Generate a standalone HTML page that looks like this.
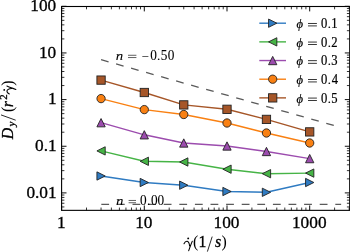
<!DOCTYPE html><html><head><meta charset="utf-8"><style>html,body{margin:0;padding:0;background:#fff;overflow:hidden;}svg{display:block;will-change:transform;}text{font-family:"Liberation Serif",serif;stroke:#000;stroke-width:0.3px;}.sm text{stroke-width:0.08px;}.lg text{stroke-width:0.2px;}</style></head><body>
<svg width="350" height="252" viewBox="0 0 350 252">
<defs><clipPath id="ax"><rect x="61.60" y="6.50" width="288.10" height="203.85"/></clipPath></defs>
<g clip-path="url(#ax)" fill="none" stroke="#5a5a5a" stroke-width="1.3" stroke-dasharray="7.8 7.8">
<line x1="101.06" y1="59.74" x2="341.14" y2="127.45"/>
<line x1="101.31" y1="204.30" x2="341.14" y2="204.30"/>
</g>
<g class="sm">
<text transform="translate(115.87,59.80) scale(1.120,1.000)" font-size="13.30" font-style="italic">n</text>
<g fill="#000"><rect x="128.00" y="54.86" width="8.40" height="0.62"/><rect x="128.00" y="57.41" width="8.40" height="0.62"/></g>
<rect x="142.30" y="56.14" width="6.10" height="0.62" fill="#000"/>
<text transform="translate(150.19,59.80) scale(1.000,1.100)" font-size="13.30">0</text>
<text x="157.12" y="59.80" font-size="13.30">.</text>
<text transform="translate(160.83,59.80) scale(1.000,1.100)" font-size="13.30">5</text>
<text transform="translate(167.79,59.80) scale(1.000,1.100)" font-size="13.30">0</text>
<text transform="translate(115.97,204.90) scale(1.120,1.000)" font-size="13.30" font-style="italic">n</text>
<g fill="#000"><rect x="128.60" y="199.97" width="7.40" height="0.62"/><rect x="128.60" y="202.52" width="7.40" height="0.62"/></g>
<text transform="translate(140.09,204.90) scale(1.000,1.100)" font-size="13.30">0</text>
<text x="146.92" y="204.90" font-size="13.30">.</text>
<text transform="translate(150.89,204.90) scale(1.000,1.100)" font-size="13.30">0</text>
<text transform="translate(157.59,204.90) scale(1.000,1.100)" font-size="13.30">0</text>
</g>
<g clip-path="url(#ax)">
<polyline points="101.06,176.00 144.30,182.50 183.76,185.20 227.00,191.50 266.46,192.30 309.70,182.50" fill="none" stroke="#2f7bc2" stroke-width="1.4" stroke-linejoin="round"/>
<polyline points="101.06,150.90 144.30,161.30 183.76,162.00 227.00,169.20 266.46,173.70 309.70,173.10" fill="none" stroke="#46b446" stroke-width="1.4" stroke-linejoin="round"/>
<polyline points="101.06,122.70 144.30,134.80 183.76,143.00 227.00,146.00 266.46,151.50 309.70,158.60" fill="none" stroke="#9c4cae" stroke-width="1.4" stroke-linejoin="round"/>
<polyline points="101.06,98.60 144.30,109.60 183.76,114.50 227.00,123.00 266.46,133.00 309.70,143.00" fill="none" stroke="#f98012" stroke-width="1.4" stroke-linejoin="round"/>
<polyline points="101.06,80.10 144.30,92.50 183.76,104.90 227.00,109.30 266.46,119.40 309.70,131.90" fill="none" stroke="#a65628" stroke-width="1.4" stroke-linejoin="round"/>
<polygon points="105.21,176.00 96.91,171.85 96.91,180.15" fill="#2f7bc2" stroke="#222" stroke-width="0.90" stroke-linejoin="miter"/>
<polygon points="148.45,182.50 140.15,178.35 140.15,186.65" fill="#2f7bc2" stroke="#222" stroke-width="0.90" stroke-linejoin="miter"/>
<polygon points="187.91,185.20 179.61,181.05 179.61,189.35" fill="#2f7bc2" stroke="#222" stroke-width="0.90" stroke-linejoin="miter"/>
<polygon points="231.15,191.50 222.85,187.35 222.85,195.65" fill="#2f7bc2" stroke="#222" stroke-width="0.90" stroke-linejoin="miter"/>
<polygon points="270.61,192.30 262.31,188.15 262.31,196.45" fill="#2f7bc2" stroke="#222" stroke-width="0.90" stroke-linejoin="miter"/>
<polygon points="313.85,182.50 305.55,178.35 305.55,186.65" fill="#2f7bc2" stroke="#222" stroke-width="0.90" stroke-linejoin="miter"/>
<polygon points="96.91,150.90 105.21,146.75 105.21,155.05" fill="#46b446" stroke="#222" stroke-width="0.90" stroke-linejoin="miter"/>
<polygon points="140.15,161.30 148.45,157.15 148.45,165.45" fill="#46b446" stroke="#222" stroke-width="0.90" stroke-linejoin="miter"/>
<polygon points="179.61,162.00 187.91,157.85 187.91,166.15" fill="#46b446" stroke="#222" stroke-width="0.90" stroke-linejoin="miter"/>
<polygon points="222.85,169.20 231.15,165.05 231.15,173.35" fill="#46b446" stroke="#222" stroke-width="0.90" stroke-linejoin="miter"/>
<polygon points="262.31,173.70 270.61,169.55 270.61,177.85" fill="#46b446" stroke="#222" stroke-width="0.90" stroke-linejoin="miter"/>
<polygon points="305.55,173.10 313.85,168.95 313.85,177.25" fill="#46b446" stroke="#222" stroke-width="0.90" stroke-linejoin="miter"/>
<polygon points="101.06,118.55 96.91,126.85 105.21,126.85" fill="#9c4cae" stroke="#222" stroke-width="0.90" stroke-linejoin="miter"/>
<polygon points="144.30,130.65 140.15,138.95 148.45,138.95" fill="#9c4cae" stroke="#222" stroke-width="0.90" stroke-linejoin="miter"/>
<polygon points="183.76,138.85 179.61,147.15 187.91,147.15" fill="#9c4cae" stroke="#222" stroke-width="0.90" stroke-linejoin="miter"/>
<polygon points="227.00,141.85 222.85,150.15 231.15,150.15" fill="#9c4cae" stroke="#222" stroke-width="0.90" stroke-linejoin="miter"/>
<polygon points="266.46,147.35 262.31,155.65 270.61,155.65" fill="#9c4cae" stroke="#222" stroke-width="0.90" stroke-linejoin="miter"/>
<polygon points="309.70,154.45 305.55,162.75 313.85,162.75" fill="#9c4cae" stroke="#222" stroke-width="0.90" stroke-linejoin="miter"/>
<circle cx="101.06" cy="98.60" r="4.15" fill="#f98012" stroke="#222" stroke-width="0.90"/>
<circle cx="144.30" cy="109.60" r="4.15" fill="#f98012" stroke="#222" stroke-width="0.90"/>
<circle cx="183.76" cy="114.50" r="4.15" fill="#f98012" stroke="#222" stroke-width="0.90"/>
<circle cx="227.00" cy="123.00" r="4.15" fill="#f98012" stroke="#222" stroke-width="0.90"/>
<circle cx="266.46" cy="133.00" r="4.15" fill="#f98012" stroke="#222" stroke-width="0.90"/>
<circle cx="309.70" cy="143.00" r="4.15" fill="#f98012" stroke="#222" stroke-width="0.90"/>
<rect x="96.91" y="75.95" width="8.30" height="8.30" fill="#a65628" stroke="#222" stroke-width="0.90"/>
<rect x="140.15" y="88.35" width="8.30" height="8.30" fill="#a65628" stroke="#222" stroke-width="0.90"/>
<rect x="179.61" y="100.75" width="8.30" height="8.30" fill="#a65628" stroke="#222" stroke-width="0.90"/>
<rect x="222.85" y="105.15" width="8.30" height="8.30" fill="#a65628" stroke="#222" stroke-width="0.90"/>
<rect x="262.31" y="115.25" width="8.30" height="8.30" fill="#a65628" stroke="#222" stroke-width="0.90"/>
<rect x="305.55" y="127.75" width="8.30" height="8.30" fill="#a65628" stroke="#222" stroke-width="0.90"/>
</g>
<g class="lg">
<line x1="259.3" y1="23.20" x2="286" y2="23.20" stroke="#2f7bc2" stroke-width="1.4"/>
<polygon points="276.85,23.20 268.55,19.05 268.55,27.35" fill="#2f7bc2" stroke="#222" stroke-width="0.90" stroke-linejoin="miter"/>
<text x="296.41" y="27.90" font-size="12.60" font-style="italic">&#x3d5;</text>
<g fill="#000"><rect x="308.00" y="22.98" width="8.90" height="0.78"/><rect x="308.00" y="25.53" width="8.90" height="0.78"/></g>
<text transform="translate(320.92,27.90) scale(1.000,1.100)" font-size="12.60">0</text>
<text x="327.77" y="27.90" font-size="12.60">.</text>
<text transform="translate(331.29,27.90) scale(1.000,1.100)" font-size="12.60">1</text>
<line x1="259.3" y1="41.87" x2="286" y2="41.87" stroke="#46b446" stroke-width="1.4"/>
<polygon points="268.55,41.87 276.85,37.72 276.85,46.02" fill="#46b446" stroke="#222" stroke-width="0.90" stroke-linejoin="miter"/>
<text x="296.41" y="46.57" font-size="12.60" font-style="italic">&#x3d5;</text>
<g fill="#000"><rect x="308.00" y="41.66" width="8.90" height="0.78"/><rect x="308.00" y="44.21" width="8.90" height="0.78"/></g>
<text transform="translate(320.92,46.57) scale(1.000,1.100)" font-size="12.60">0</text>
<text x="327.77" y="46.57" font-size="12.60">.</text>
<text transform="translate(331.35,46.57) scale(1.000,1.100)" font-size="12.60">2</text>
<line x1="259.3" y1="60.54" x2="286" y2="60.54" stroke="#9c4cae" stroke-width="1.4"/>
<polygon points="272.70,56.39 268.55,64.69 276.85,64.69" fill="#9c4cae" stroke="#222" stroke-width="0.90" stroke-linejoin="miter"/>
<text x="296.41" y="65.24" font-size="12.60" font-style="italic">&#x3d5;</text>
<g fill="#000"><rect x="308.00" y="60.33" width="8.90" height="0.78"/><rect x="308.00" y="62.88" width="8.90" height="0.78"/></g>
<text transform="translate(320.92,65.24) scale(1.000,1.100)" font-size="12.60">0</text>
<text x="327.77" y="65.24" font-size="12.60">.</text>
<text transform="translate(331.30,65.24) scale(1.000,1.100)" font-size="12.60">3</text>
<line x1="259.3" y1="79.21" x2="286" y2="79.21" stroke="#f98012" stroke-width="1.4"/>
<circle cx="272.70" cy="79.21" r="4.15" fill="#f98012" stroke="#222" stroke-width="0.90"/>
<text x="296.41" y="83.91" font-size="12.60" font-style="italic">&#x3d5;</text>
<g fill="#000"><rect x="308.00" y="79.00" width="8.90" height="0.78"/><rect x="308.00" y="81.55" width="8.90" height="0.78"/></g>
<text transform="translate(320.92,83.91) scale(1.000,1.100)" font-size="12.60">0</text>
<text x="327.77" y="83.91" font-size="12.60">.</text>
<text transform="translate(331.65,83.91) scale(1.000,1.100)" font-size="12.60">4</text>
<line x1="259.3" y1="97.88" x2="286" y2="97.88" stroke="#a65628" stroke-width="1.4"/>
<rect x="268.55" y="93.73" width="8.30" height="8.30" fill="#a65628" stroke="#222" stroke-width="0.90"/>
<text x="296.41" y="102.58" font-size="12.60" font-style="italic">&#x3d5;</text>
<g fill="#000"><rect x="308.00" y="97.67" width="8.90" height="0.78"/><rect x="308.00" y="100.22" width="8.90" height="0.78"/></g>
<text transform="translate(320.92,102.58) scale(1.000,1.100)" font-size="12.60">0</text>
<text x="327.77" y="102.58" font-size="12.60">.</text>
<text transform="translate(331.17,102.58) scale(1.000,1.100)" font-size="12.60">5</text>
</g>
<g stroke="#000"><line x1="61.60" y1="210.35" x2="61.60" y2="205.45" stroke-width="0.95"/><line x1="61.60" y1="6.50" x2="61.60" y2="11.40" stroke-width="0.95"/><line x1="86.50" y1="210.35" x2="86.50" y2="207.55" stroke-width="0.80"/><line x1="86.50" y1="6.50" x2="86.50" y2="9.30" stroke-width="0.80"/><line x1="101.06" y1="210.35" x2="101.06" y2="207.55" stroke-width="0.80"/><line x1="101.06" y1="6.50" x2="101.06" y2="9.30" stroke-width="0.80"/><line x1="111.39" y1="210.35" x2="111.39" y2="207.55" stroke-width="0.80"/><line x1="111.39" y1="6.50" x2="111.39" y2="9.30" stroke-width="0.80"/><line x1="119.40" y1="210.35" x2="119.40" y2="207.55" stroke-width="0.80"/><line x1="119.40" y1="6.50" x2="119.40" y2="9.30" stroke-width="0.80"/><line x1="125.95" y1="210.35" x2="125.95" y2="207.55" stroke-width="0.80"/><line x1="125.95" y1="6.50" x2="125.95" y2="9.30" stroke-width="0.80"/><line x1="131.49" y1="210.35" x2="131.49" y2="207.55" stroke-width="0.80"/><line x1="131.49" y1="6.50" x2="131.49" y2="9.30" stroke-width="0.80"/><line x1="136.29" y1="210.35" x2="136.29" y2="207.55" stroke-width="0.80"/><line x1="136.29" y1="6.50" x2="136.29" y2="9.30" stroke-width="0.80"/><line x1="140.52" y1="210.35" x2="140.52" y2="207.55" stroke-width="0.80"/><line x1="140.52" y1="6.50" x2="140.52" y2="9.30" stroke-width="0.80"/><line x1="144.30" y1="210.35" x2="144.30" y2="205.45" stroke-width="0.95"/><line x1="144.30" y1="6.50" x2="144.30" y2="11.40" stroke-width="0.95"/><line x1="169.20" y1="210.35" x2="169.20" y2="207.55" stroke-width="0.80"/><line x1="169.20" y1="6.50" x2="169.20" y2="9.30" stroke-width="0.80"/><line x1="183.76" y1="210.35" x2="183.76" y2="207.55" stroke-width="0.80"/><line x1="183.76" y1="6.50" x2="183.76" y2="9.30" stroke-width="0.80"/><line x1="194.09" y1="210.35" x2="194.09" y2="207.55" stroke-width="0.80"/><line x1="194.09" y1="6.50" x2="194.09" y2="9.30" stroke-width="0.80"/><line x1="202.10" y1="210.35" x2="202.10" y2="207.55" stroke-width="0.80"/><line x1="202.10" y1="6.50" x2="202.10" y2="9.30" stroke-width="0.80"/><line x1="208.65" y1="210.35" x2="208.65" y2="207.55" stroke-width="0.80"/><line x1="208.65" y1="6.50" x2="208.65" y2="9.30" stroke-width="0.80"/><line x1="214.19" y1="210.35" x2="214.19" y2="207.55" stroke-width="0.80"/><line x1="214.19" y1="6.50" x2="214.19" y2="9.30" stroke-width="0.80"/><line x1="218.99" y1="210.35" x2="218.99" y2="207.55" stroke-width="0.80"/><line x1="218.99" y1="6.50" x2="218.99" y2="9.30" stroke-width="0.80"/><line x1="223.22" y1="210.35" x2="223.22" y2="207.55" stroke-width="0.80"/><line x1="223.22" y1="6.50" x2="223.22" y2="9.30" stroke-width="0.80"/><line x1="227.00" y1="210.35" x2="227.00" y2="205.45" stroke-width="0.95"/><line x1="227.00" y1="6.50" x2="227.00" y2="11.40" stroke-width="0.95"/><line x1="251.90" y1="210.35" x2="251.90" y2="207.55" stroke-width="0.80"/><line x1="251.90" y1="6.50" x2="251.90" y2="9.30" stroke-width="0.80"/><line x1="266.46" y1="210.35" x2="266.46" y2="207.55" stroke-width="0.80"/><line x1="266.46" y1="6.50" x2="266.46" y2="9.30" stroke-width="0.80"/><line x1="276.79" y1="210.35" x2="276.79" y2="207.55" stroke-width="0.80"/><line x1="276.79" y1="6.50" x2="276.79" y2="9.30" stroke-width="0.80"/><line x1="284.80" y1="210.35" x2="284.80" y2="207.55" stroke-width="0.80"/><line x1="284.80" y1="6.50" x2="284.80" y2="9.30" stroke-width="0.80"/><line x1="291.35" y1="210.35" x2="291.35" y2="207.55" stroke-width="0.80"/><line x1="291.35" y1="6.50" x2="291.35" y2="9.30" stroke-width="0.80"/><line x1="296.89" y1="210.35" x2="296.89" y2="207.55" stroke-width="0.80"/><line x1="296.89" y1="6.50" x2="296.89" y2="9.30" stroke-width="0.80"/><line x1="301.69" y1="210.35" x2="301.69" y2="207.55" stroke-width="0.80"/><line x1="301.69" y1="6.50" x2="301.69" y2="9.30" stroke-width="0.80"/><line x1="305.92" y1="210.35" x2="305.92" y2="207.55" stroke-width="0.80"/><line x1="305.92" y1="6.50" x2="305.92" y2="9.30" stroke-width="0.80"/><line x1="309.70" y1="210.35" x2="309.70" y2="205.45" stroke-width="0.95"/><line x1="309.70" y1="6.50" x2="309.70" y2="11.40" stroke-width="0.95"/><line x1="334.60" y1="210.35" x2="334.60" y2="207.55" stroke-width="0.80"/><line x1="334.60" y1="6.50" x2="334.60" y2="9.30" stroke-width="0.80"/><line x1="349.16" y1="210.35" x2="349.16" y2="207.55" stroke-width="0.80"/><line x1="349.16" y1="6.50" x2="349.16" y2="9.30" stroke-width="0.80"/><line x1="61.60" y1="206.94" x2="64.40" y2="206.94" stroke-width="0.80"/><line x1="349.70" y1="206.94" x2="346.90" y2="206.94" stroke-width="0.80"/><line x1="61.60" y1="203.25" x2="64.40" y2="203.25" stroke-width="0.80"/><line x1="349.70" y1="203.25" x2="346.90" y2="203.25" stroke-width="0.80"/><line x1="61.60" y1="200.13" x2="64.40" y2="200.13" stroke-width="0.80"/><line x1="349.70" y1="200.13" x2="346.90" y2="200.13" stroke-width="0.80"/><line x1="61.60" y1="197.42" x2="64.40" y2="197.42" stroke-width="0.80"/><line x1="349.70" y1="197.42" x2="346.90" y2="197.42" stroke-width="0.80"/><line x1="61.60" y1="195.03" x2="64.40" y2="195.03" stroke-width="0.80"/><line x1="349.70" y1="195.03" x2="346.90" y2="195.03" stroke-width="0.80"/><line x1="61.60" y1="192.90" x2="66.50" y2="192.90" stroke-width="0.95"/><line x1="349.70" y1="192.90" x2="344.80" y2="192.90" stroke-width="0.95"/><line x1="61.60" y1="178.86" x2="64.40" y2="178.86" stroke-width="0.80"/><line x1="349.70" y1="178.86" x2="346.90" y2="178.86" stroke-width="0.80"/><line x1="61.60" y1="170.64" x2="64.40" y2="170.64" stroke-width="0.80"/><line x1="349.70" y1="170.64" x2="346.90" y2="170.64" stroke-width="0.80"/><line x1="61.60" y1="164.81" x2="64.40" y2="164.81" stroke-width="0.80"/><line x1="349.70" y1="164.81" x2="346.90" y2="164.81" stroke-width="0.80"/><line x1="61.60" y1="160.29" x2="64.40" y2="160.29" stroke-width="0.80"/><line x1="349.70" y1="160.29" x2="346.90" y2="160.29" stroke-width="0.80"/><line x1="61.60" y1="156.60" x2="64.40" y2="156.60" stroke-width="0.80"/><line x1="349.70" y1="156.60" x2="346.90" y2="156.60" stroke-width="0.80"/><line x1="61.60" y1="153.48" x2="64.40" y2="153.48" stroke-width="0.80"/><line x1="349.70" y1="153.48" x2="346.90" y2="153.48" stroke-width="0.80"/><line x1="61.60" y1="150.77" x2="64.40" y2="150.77" stroke-width="0.80"/><line x1="349.70" y1="150.77" x2="346.90" y2="150.77" stroke-width="0.80"/><line x1="61.60" y1="148.38" x2="64.40" y2="148.38" stroke-width="0.80"/><line x1="349.70" y1="148.38" x2="346.90" y2="148.38" stroke-width="0.80"/><line x1="61.60" y1="146.25" x2="66.50" y2="146.25" stroke-width="0.95"/><line x1="349.70" y1="146.25" x2="344.80" y2="146.25" stroke-width="0.95"/><line x1="61.60" y1="132.21" x2="64.40" y2="132.21" stroke-width="0.80"/><line x1="349.70" y1="132.21" x2="346.90" y2="132.21" stroke-width="0.80"/><line x1="61.60" y1="123.99" x2="64.40" y2="123.99" stroke-width="0.80"/><line x1="349.70" y1="123.99" x2="346.90" y2="123.99" stroke-width="0.80"/><line x1="61.60" y1="118.16" x2="64.40" y2="118.16" stroke-width="0.80"/><line x1="349.70" y1="118.16" x2="346.90" y2="118.16" stroke-width="0.80"/><line x1="61.60" y1="113.64" x2="64.40" y2="113.64" stroke-width="0.80"/><line x1="349.70" y1="113.64" x2="346.90" y2="113.64" stroke-width="0.80"/><line x1="61.60" y1="109.95" x2="64.40" y2="109.95" stroke-width="0.80"/><line x1="349.70" y1="109.95" x2="346.90" y2="109.95" stroke-width="0.80"/><line x1="61.60" y1="106.83" x2="64.40" y2="106.83" stroke-width="0.80"/><line x1="349.70" y1="106.83" x2="346.90" y2="106.83" stroke-width="0.80"/><line x1="61.60" y1="104.12" x2="64.40" y2="104.12" stroke-width="0.80"/><line x1="349.70" y1="104.12" x2="346.90" y2="104.12" stroke-width="0.80"/><line x1="61.60" y1="101.73" x2="64.40" y2="101.73" stroke-width="0.80"/><line x1="349.70" y1="101.73" x2="346.90" y2="101.73" stroke-width="0.80"/><line x1="61.60" y1="99.60" x2="66.50" y2="99.60" stroke-width="0.95"/><line x1="349.70" y1="99.60" x2="344.80" y2="99.60" stroke-width="0.95"/><line x1="61.60" y1="85.56" x2="64.40" y2="85.56" stroke-width="0.80"/><line x1="349.70" y1="85.56" x2="346.90" y2="85.56" stroke-width="0.80"/><line x1="61.60" y1="77.34" x2="64.40" y2="77.34" stroke-width="0.80"/><line x1="349.70" y1="77.34" x2="346.90" y2="77.34" stroke-width="0.80"/><line x1="61.60" y1="71.51" x2="64.40" y2="71.51" stroke-width="0.80"/><line x1="349.70" y1="71.51" x2="346.90" y2="71.51" stroke-width="0.80"/><line x1="61.60" y1="66.99" x2="64.40" y2="66.99" stroke-width="0.80"/><line x1="349.70" y1="66.99" x2="346.90" y2="66.99" stroke-width="0.80"/><line x1="61.60" y1="63.30" x2="64.40" y2="63.30" stroke-width="0.80"/><line x1="349.70" y1="63.30" x2="346.90" y2="63.30" stroke-width="0.80"/><line x1="61.60" y1="60.18" x2="64.40" y2="60.18" stroke-width="0.80"/><line x1="349.70" y1="60.18" x2="346.90" y2="60.18" stroke-width="0.80"/><line x1="61.60" y1="57.47" x2="64.40" y2="57.47" stroke-width="0.80"/><line x1="349.70" y1="57.47" x2="346.90" y2="57.47" stroke-width="0.80"/><line x1="61.60" y1="55.08" x2="64.40" y2="55.08" stroke-width="0.80"/><line x1="349.70" y1="55.08" x2="346.90" y2="55.08" stroke-width="0.80"/><line x1="61.60" y1="52.95" x2="66.50" y2="52.95" stroke-width="0.95"/><line x1="349.70" y1="52.95" x2="344.80" y2="52.95" stroke-width="0.95"/><line x1="61.60" y1="38.91" x2="64.40" y2="38.91" stroke-width="0.80"/><line x1="349.70" y1="38.91" x2="346.90" y2="38.91" stroke-width="0.80"/><line x1="61.60" y1="30.69" x2="64.40" y2="30.69" stroke-width="0.80"/><line x1="349.70" y1="30.69" x2="346.90" y2="30.69" stroke-width="0.80"/><line x1="61.60" y1="24.86" x2="64.40" y2="24.86" stroke-width="0.80"/><line x1="349.70" y1="24.86" x2="346.90" y2="24.86" stroke-width="0.80"/><line x1="61.60" y1="20.34" x2="64.40" y2="20.34" stroke-width="0.80"/><line x1="349.70" y1="20.34" x2="346.90" y2="20.34" stroke-width="0.80"/><line x1="61.60" y1="16.65" x2="64.40" y2="16.65" stroke-width="0.80"/><line x1="349.70" y1="16.65" x2="346.90" y2="16.65" stroke-width="0.80"/><line x1="61.60" y1="13.53" x2="64.40" y2="13.53" stroke-width="0.80"/><line x1="349.70" y1="13.53" x2="346.90" y2="13.53" stroke-width="0.80"/><line x1="61.60" y1="10.82" x2="64.40" y2="10.82" stroke-width="0.80"/><line x1="349.70" y1="10.82" x2="346.90" y2="10.82" stroke-width="0.80"/><line x1="61.60" y1="8.43" x2="64.40" y2="8.43" stroke-width="0.80"/><line x1="349.70" y1="8.43" x2="346.90" y2="8.43" stroke-width="0.80"/><line x1="61.60" y1="6.30" x2="66.50" y2="6.30" stroke-width="0.95"/><line x1="349.70" y1="6.30" x2="344.80" y2="6.30" stroke-width="0.95"/></g>
<rect x="61.60" y="6.50" width="288.10" height="203.85" fill="none" stroke="#000" stroke-width="1.1"/>
<text transform="translate(57.04,227.70) scale(1.060,1)" font-size="16.30">1</text>
<text transform="translate(135.23,227.70) scale(1.060,1)" font-size="16.30">10</text>
<text transform="translate(213.61,227.70) scale(1.060,1)" font-size="16.30">100</text>
<text transform="translate(291.99,227.70) scale(1.060,1)" font-size="16.30">1000</text>
<text transform="translate(30.34,11.10) scale(1.060,1)" font-size="16.30">100</text>
<text transform="translate(38.98,57.75) scale(1.060,1)" font-size="16.30">10</text>
<text transform="translate(48.00,104.40) scale(1.060,1)" font-size="16.30">1</text>
<text transform="translate(35.04,151.05) scale(1.060,1)" font-size="16.30">0.1</text>
<text transform="translate(26.40,197.70) scale(1.060,1)" font-size="16.30">0.01</text>
<g transform="translate(184.00,247.10) scale(1.000)"><path d="M0,-3.3 C0.8,-5.1 2.0,-6.0 3.2,-5.8 C4.6,-5.5 5.3,-3.8 5.6,-1.1 M8.3,-5.9 C7.0,-3.1 5.8,0.4 4.7,3.6" fill="none" stroke="#000" stroke-width="1.05" stroke-linecap="round"/><circle cx="4.2" cy="-8.7" r="0.95" fill="#000"/></g>
<text x="193.11" y="247.10" font-size="15.80" style="stroke-width:0">(</text>
<text x="198.51" y="247.10" font-size="15.80">1</text>
<line x1="207.4" y1="251.6" x2="212.2" y2="236.6" stroke="#000" stroke-width="0.85"/>
<text x="215.01" y="247.10" font-size="15.80" font-style="italic">s</text>
<text x="221.49" y="247.10" font-size="15.80" style="stroke-width:0">)</text>
<g transform="translate(12.5,139.3) rotate(-90)"><text x="0.18" y="0.00" font-size="15.80" font-style="italic">D</text><text x="12.72" y="2.60" font-size="11.00" font-style="italic">y</text><line x1="19.1" y1="3.2" x2="24.4" y2="-11.5" stroke="#000" stroke-width="0.85"/><text x="27.21" y="0.00" font-size="15.80" style="stroke-width:0">(</text><text x="32.16" y="0.00" font-size="15.80" font-style="italic">r</text><text x="39.53" y="-5.40" font-size="10.80">2</text><g transform="translate(45.40,0.00) scale(0.950)"><path d="M0,-3.3 C0.8,-5.1 2.0,-6.0 3.2,-5.8 C4.6,-5.5 5.3,-3.8 5.6,-1.1 M8.3,-5.9 C7.0,-3.1 5.8,0.4 4.7,3.6" fill="none" stroke="#000" stroke-width="1.11" stroke-linecap="round"/><circle cx="4.2" cy="-8.7" r="0.95" fill="#000"/></g><text x="53.59" y="0.00" font-size="15.80" style="stroke-width:0">)</text></g>
</svg></body></html>
